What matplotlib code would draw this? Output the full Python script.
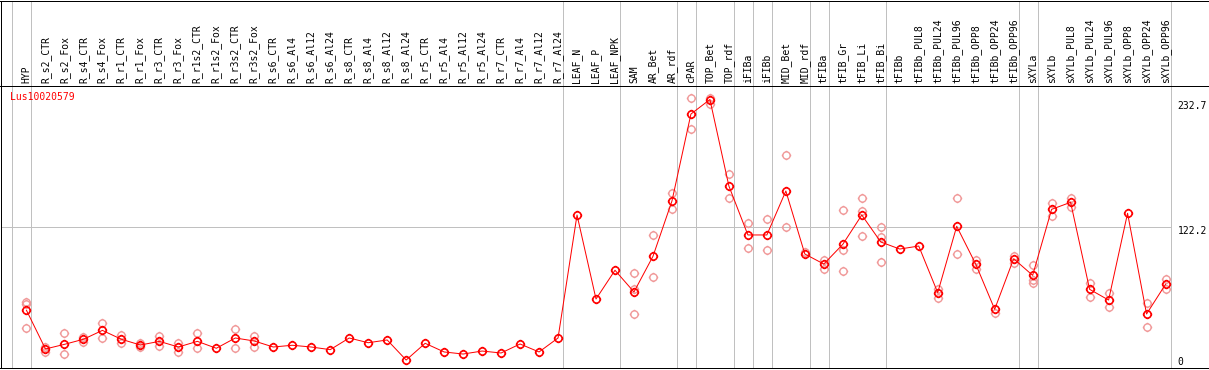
import matplotlib
matplotlib.use("Agg")
import matplotlib.pyplot as plt
from matplotlib.path import Path

# ── data ──────────────────────────────────────────────────────────────────────
gene = "Lus10020579"

samples = [
    "HYP",
    "R_s2_CTR", "R_s2_Fox", "R_s4_CTR", "R_s4_Fox", "R_r1_CTR", "R_r1_Fox",
    "R_r3_CTR", "R_r3_Fox", "R_r1s2_CTR", "R_r1s2_Fox", "R_r3s2_CTR", "R_r3s2_Fox",
    "R_s6_CTR", "R_s6_Al4", "R_s6_Al12", "R_s6_Al24",
    "R_s8_CTR", "R_s8_Al4", "R_s8_Al12", "R_s8_Al24",
    "R_r5_CTR", "R_r5_Al4", "R_r5_Al12", "R_r5_Al24",
    "R_r7_CTR", "R_r7_Al4", "R_r7_Al12", "R_r7_Al24",
    "LEAF_N", "LEAF_P", "LEAF_NPK",
    "SAM", "AR_Bet", "AR_rdf",
    "cPAR", "TOP_Bet", "TOP_rdf",
    "iFIBa", "iFIBb", "MID_Bet", "MID_rdf",
    "tFIBa", "tFIB_Gr", "tFIB_Li", "tFIB_Bi",
    "tFIBb", "tFIBb_PUL8", "tFIBb_PUL24", "tFIBb_PUL96",
    "tFIBb_OPP8", "tFIBb_OPP24", "tFIBb_OPP96",
    "sXYLa",
    "sXYLb", "sXYLb_PUL8", "sXYLb_PUL24", "sXYLb_PUL96",
    "sXYLb_OPP8", "sXYLb_OPP24", "sXYLb_OPP96",
]

means = [
    50.0,
    16.5, 20.5, 24.9, 32.6, 24.9, 19.9, 23.1, 18.2, 23.1, 17.1, 26.0, 23.4,
    18.2, 19.7, 18.2, 15.9,
    26.0, 21.9, 24.3, 6.9,
    21.4, 13.9, 12.1, 14.7,
    13.0, 20.8, 13.9, 26.0,
    132.6, 59.8, 84.7,
    65.9, 96.8, 144.7,
    220.1, 232.7, 157.7,
    115.3, 115.3, 153.4, 98.8,
    90.1, 107.2, 132.6, 109.2,
    103.1, 105.7, 65.3, 122.8,
    90.1, 50.9, 94.7,
    80.3,
    137.5, 143.6, 68.2, 58.9,
    134.1, 46.8, 72.5,
]

replicates = [
    [57.5, 55.2, 34.4],
    [18.5, 14.1], [30.0, 11.9], [27.1, 22.8], [39.0, 26.3], [28.6, 21.4], [21.4, 18.5],
    [27.7, 19.1], [21.9, 14.1], [30.3, 17.1], [], [33.8, 17.6], [28.0, 18.2],
    [], [], [], [],
    [], [], [], [],
    [], [], [], [],
    [], [], [], [],
    [], [], [],
    [82.3, 68.5, 46.5], [115.3, 78.6], [151.4, 137.5],
    [233.7, 206.8], [234.2, 228.5], [168.1, 147.6],
    [125.4, 103.7], [129.1, 102.3], [184.6, 122.2], [100.8],
    [93.6, 86.0], [136.9, 102.0, 84.1], [147.0, 135.8, 114.4], [122.2, 113.8, 91.6],
    [], [], [68.2, 60.9], [147.0, 98.5],
    [93.6, 85.5], [47.9], [97.1, 91.2],
    [89.3, 76.3, 73.9],
    [143.2, 132.0], [147.6, 139.8], [73.9, 61.8], [64.7, 52.6],
    [], [56.6, 35.8], [77.1, 68.2],
]

# last sample index of each group (separator drawn after it)
group_ends = [-1, 0, 28, 31, 34, 35, 37, 38, 39, 41, 42, 45, 52, 53, 60]

y_top = 244.4
y_mid = 122.2
y_max = max(means)

# ── figure ────────────────────────────────────────────────────────────────────
W, H = 1209, 370
fig = plt.figure(figsize=(W / 100, H / 100), dpi=100)
fig.patch.set_facecolor("white")

px = 0.72  # one pixel in points
x_left, x_right = -26 / 19, (W - 26) / 19
sep_x = [g + 5 / 19 for g in group_ends]

ax = fig.add_axes([0.5 / W, 2 / H, (W - 1) / W, 282 / H])
lab = fig.add_axes([0.5 / W, 284 / H, (W - 1) / W, 85.5 / H])

for a in (ax, lab):
    a.set_xlim(x_left, x_right)
    a.set_xticks([])
    a.set_yticks([])
    for s in a.spines.values():
        s.set_linewidth(px)
        s.set_color("black")
    for xv in sep_x:
        a.axvline(xv, color="#c0c0c0", linewidth=px, zorder=0)
lab.spines["bottom"].set_visible(False)
lab.set_ylim(0, 1)

# sample labels
for i, name in enumerate(samples):
    lab.text(i, 3 / 86, name, rotation=90, ha="center", va="bottom",
             fontsize=7, family="DejaVu Sans Mono", color="black")

ax.set_ylim(0, y_top)
ax.hlines(y_mid, x_left, sep_x[-1], color="#c0c0c0", linewidth=px, zorder=0)

# marker: open circle with four small ticks
circ = Path.unit_circle()
t = 1.3
ticks = Path([(0, 1), (0, t), (0, -1), (0, -t), (1, 0), (t, 0), (-1, 0), (-t, 0)],
             [Path.MOVETO, Path.LINETO] * 4)
mk = Path.make_compound_path(circ, ticks)

rx, ry = [], []
for i, reps in enumerate(replicates):
    for v in reps:
        rx.append(i)
        ry.append(v)
ax.plot(rx, ry, linestyle="none", marker=mk, markersize=6.8, markerfacecolor="none",
        markeredgecolor="#f09898", markeredgewidth=1.0, zorder=2)

ax.plot(range(len(means)), means, color="#ff0000", linewidth=px, zorder=3)
ax.plot(range(len(means)), means, linestyle="none", marker=mk, markersize=6.8,
        markerfacecolor="none", markeredgecolor="#ff0000", markeredgewidth=1.2, zorder=4)

# gene name and scale labels
ax.text(10 / W, 0.961, gene, transform=ax.transAxes, ha="left", va="center",
        fontsize=7, family="DejaVu Sans Mono", color="red")

lx = (1178 - 26) / 19
for val, dy in [(y_max, -6.5), (y_mid, -4), (0, 6)]:
    ax.annotate(f"{val:g}" if val == 0 else f"{val:.1f}", xy=(lx, val),
                xytext=(0, dy * px), textcoords="offset points",
                ha="left", va="center", fontsize=7, family="DejaVu Sans Mono",
                color="black")

fig.savefig("out.png", dpi=100, facecolor="white")
